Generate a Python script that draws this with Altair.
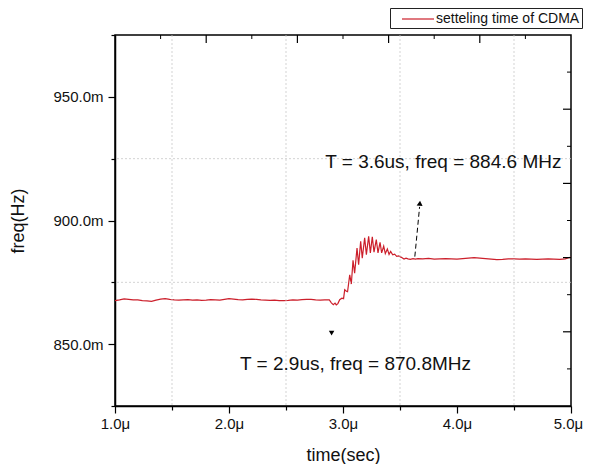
import altair as alt
import pandas as pd

# ---------------- data ----------------
pre_t = [1.00, 1.04, 1.08, 1.12, 1.16, 1.20, 1.24, 1.28, 1.32, 1.36, 1.40, 1.44,
         1.48, 1.52, 1.56, 1.60, 1.64, 1.68, 1.72, 1.76, 1.80, 1.84, 1.88, 1.92,
         1.96, 2.00, 2.04, 2.08, 2.12, 2.16, 2.20, 2.24, 2.28, 2.32, 2.36, 2.40,
         2.44, 2.48, 2.52, 2.56, 2.60, 2.64, 2.68, 2.72, 2.76, 2.80, 2.84, 2.88]
pre_f = [867.6, 867.9, 868.3, 868.1, 867.9, 867.9, 867.6, 867.5, 867.3, 867.8, 868.2, 868.4,
         868.1, 867.9, 867.8, 867.9, 868.0, 867.8, 867.9, 867.7, 867.8, 868.0, 867.9, 867.8,
         868.1, 868.4, 868.2, 868.0, 867.9, 868.1, 868.2, 868.1, 867.9, 867.8, 867.7, 867.8,
         867.6, 867.6, 867.7, 867.9, 867.8, 868.0, 868.1, 868.1, 867.9, 867.8, 867.9, 867.9]

tr_t = [2.898, 2.915, 2.930, 2.941, 2.955, 2.971, 2.990, 3.005, 3.015, 3.030, 3.040,
        3.059, 3.073, 3.088, 3.102, 3.123, 3.137, 3.155, 3.169, 3.190, 3.205, 3.225,
        3.240, 3.257, 3.272, 3.292, 3.307, 3.325, 3.339, 3.357, 3.371, 3.389, 3.404,
        3.418, 3.436, 3.453, 3.471, 3.489, 3.512, 3.535, 3.553, 3.570, 3.590, 3.614,
        3.635, 3.658]
tr_f = [866.7, 866.0, 866.6, 865.9, 866.4, 868.0, 868.6, 868.4, 872.0, 871.4, 871.2,
        878.0, 874.3, 883.9, 878.7, 888.9, 882.1, 891.6, 884.8, 893.0, 886.2, 893.6,
        886.9, 893.4, 887.2, 892.3, 886.9, 891.2, 886.9, 889.6, 886.6, 888.5, 886.3,
        887.5, 886.1, 886.4, 885.5, 885.7, 885.1, 884.4, 884.8, 884.5, 884.3, 884.6,
        884.4, 884.6]

st_t = [3.70, 3.75, 3.80, 3.85, 3.90, 3.95, 4.00, 4.05, 4.10, 4.15, 4.20, 4.25, 4.30,
        4.35, 4.40, 4.45, 4.50, 4.55, 4.60, 4.65, 4.70, 4.75, 4.80, 4.85, 4.90, 4.95,
        4.98, 5.00]
st_f = [884.5, 884.7, 884.4, 884.5, 884.6, 884.5, 884.4, 884.6, 884.8, 885.0, 884.8, 884.6,
        884.4, 884.2, 884.3, 884.5, 884.5, 884.4, 884.5, 884.4, 884.3, 884.4, 884.5, 884.4,
        884.3, 884.5, 885.0, 885.1]

series_name = "setteling time of CDMA"

x_ticks = [1.0, 1.5, 2.0, 2.5, 3.0, 3.5, 4.0, 4.5, 5.0]
y_ticks = [825, 850, 875, 900, 925, 950, 975]
grid_x = [1.5, 2.5, 3.5, 4.5]
grid_y = [875, 925]
top_long = [1.8, 2.6, 3.4, 4.2]
top_short = [1.4, 2.2, 3.0, 3.8, 4.6]
right_long = [855, 885, 915, 945]
right_short = [840, 870, 900, 930, 960]

ann_text = ["T = 3.6us, freq = 884.6 MHz", "T = 2.9us, freq = 870.8MHz"]
ann_t = [3.880, 3.110]
ann_f = [923.5, 841.9]

arrow_t = [3.630]
arrow_f = [885.4]
arrow_t2 = [3.672]
arrow_f2 = [905.5]
head_up_t = [3.674]
head_up_f = [907.0]
head_dn_t = [2.900]
head_dn_f = [854.5]

# ---------------- chart ----------------
W, H = 456, 371
FONT = "Liberation Sans"

line_df = pd.DataFrame({
    "t": pre_t + tr_t + st_t,
    "f": pre_f + tr_f + st_f,
    "s": [series_name] * (len(pre_t) + len(tr_t) + len(st_t)),
})

xs = alt.Scale(domain=[1, 5], nice=False, zero=False)
ys = alt.Scale(domain=[825, 975], nice=False, zero=False)

x_axis = alt.Axis(
    values=x_ticks,
    labelExpr="datum.value % 1 == 0 ? format(datum.value, '.1f') + 'μ' : ''",
    tickSize={"condition": {"test": "datum.value % 1 != 0", "value": 4}, "value": 7},
    labelOffset={"condition": {"test": "datum.value >= 5", "value": -3}, "value": 0},
    grid=False, title="time(sec)", titlePadding=15, labelPadding=3, labelFlush=False,
)
y_axis = alt.Axis(
    values=y_ticks,
    labelExpr="datum.value % 50 == 0 ? format(datum.value, '.1f') + 'm' : ''",
    tickSize={"condition": {"test": "datum.value % 50 != 0", "value": 4}, "value": 7},
    grid=False, title="freq(Hz)", titlePadding=25, labelPadding=5, labelFlush=False,
)


def X(field):
    return alt.X(field, scale=xs, axis=x_axis)


def Y(field):
    return alt.Y(field, scale=ys, axis=y_axis)


line = alt.Chart(line_df).mark_line(strokeWidth=1.2, interpolate="linear").encode(
    x=X("t:Q"),
    y=Y("f:Q"),
    color=alt.Color("s:N", scale=alt.Scale(domain=[series_name], range=["#cc1f2b"]),
                    legend=alt.Legend(title=None, orient="none", legendX=275, legendY=-27,
                                      strokeColor="#222", padding=2,
                                      symbolType="M-2,0H2",
                                      symbolSize=256, symbolStrokeWidth=1.2,
                                      symbolOffset=17, labelOffset=9,
                                      labelFontSize=14, labelFont=FONT, labelColor="#111")),
)

gx = alt.Chart(pd.DataFrame({"t": grid_x})).mark_rule(
    color="#c8c8c8", strokeDash=[2, 2], strokeWidth=0.8
).encode(x=X("t:Q"))

gy = alt.Chart(pd.DataFrame({"f": grid_y})).mark_rule(
    color="#c8c8c8", strokeDash=[2, 2], strokeWidth=0.8
).encode(y=Y("f:Q"))

tl = alt.Chart(pd.DataFrame({"t": top_long})).mark_rule(color="black", strokeWidth=1.2).encode(
    x=X("t:Q"), y=alt.value(0), y2=alt.value(8))
tsh = alt.Chart(pd.DataFrame({"t": top_short})).mark_rule(color="black", strokeWidth=1).encode(
    x=X("t:Q"), y=alt.value(0), y2=alt.value(4))
rl = alt.Chart(pd.DataFrame({"f": right_long})).mark_rule(color="black", strokeWidth=1.2).encode(
    y=Y("f:Q"), x=alt.value(W), x2=alt.value(W - 8))
rsh = alt.Chart(pd.DataFrame({"f": right_short})).mark_rule(color="black", strokeWidth=1).encode(
    y=Y("f:Q"), x=alt.value(W), x2=alt.value(W - 4))

texts = alt.Chart(pd.DataFrame({"t": ann_t, "f": ann_f, "txt": ann_text})).mark_text(
    font=FONT, fontSize=19, color="#111", align="center", baseline="middle"
).encode(x=X("t:Q"), y=Y("f:Q"), text="txt:N")

arrow = alt.Chart(pd.DataFrame({"t": arrow_t, "f": arrow_f, "t2": arrow_t2, "f2": arrow_f2})).mark_rule(
    color="black", strokeDash=[5, 3], strokeWidth=1
).encode(x=X("t:Q"), y=Y("f:Q"), x2="t2:Q", y2="f2:Q")

head_up = alt.Chart(pd.DataFrame({"t": head_up_t, "f": head_up_f})).mark_point(
    shape="triangle-up", filled=True, color="black", size=35, opacity=1, angle=5
).encode(x=X("t:Q"), y=Y("f:Q"))

head_dn = alt.Chart(pd.DataFrame({"t": head_dn_t, "f": head_dn_f})).mark_point(
    shape="triangle-down", filled=True, color="black", size=30, opacity=1
).encode(x=X("t:Q"), y=Y("f:Q"))

chart = alt.layer(line, gx, gy, tl, tsh, rl, rsh, arrow, head_up, head_dn, texts).properties(
    width=W, height=H,
    autosize=alt.AutoSizeParams(type="none"),
    padding={"left": 107, "top": 27, "right": 12, "bottom": 58},
).configure_view(
    stroke="black", strokeWidth=1.5
).configure_axis(
    domainColor="black", domainWidth=1.5, tickColor="black", tickWidth=1.2,
    labelFont=FONT, labelFontSize=15, labelColor="#111",
    titleFont=FONT, titleFontSize=18, titleFontWeight="normal", titleColor="#111",
)

chart.save("out.html", embed_options={"renderer": "svg", "actions": False})
